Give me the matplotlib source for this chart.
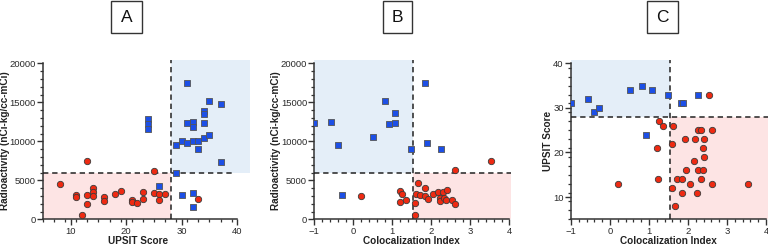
import matplotlib
matplotlib.use("Agg")
import matplotlib.pyplot as plt
from matplotlib.patches import Rectangle
import numpy as np

plt.rcParams['font.family'] = ['Liberation Sans', 'DejaVu Sans']

# ---------------- Data ----------------
# Panel A: UPSIT score vs radioactivity
a_blue_x = [24, 24, 24, 26, 29, 29, 30, 30, 31, 31, 31, 32, 32, 32, 32, 32,
            33, 33, 34, 34, 34, 34, 35, 35, 37, 37]
a_blue_y = [12820, 12220, 11580, 4310, 9530, 5900, 10000, 3070, 9740, 17470,
            12310, 12440, 11830, 10080, 3370, 1540, 10000, 8970, 10420, 13880,
            13460, 12310, 10810, 15130, 14820, 7390]
a_red_x = [8, 11, 11, 12, 13, 13, 13, 14, 14, 14, 16, 16, 18, 19, 21, 21, 22,
           23, 23, 25, 25, 26, 26, 27, 33]
a_red_y = [4580, 3060, 2830, 530, 7500, 3100, 1950, 3950, 3480, 2950, 2850,
           2350, 3250, 3650, 2440, 2200, 2070, 3460, 2560, 3420, 6250, 3230,
           2500, 3200, 2540]

# Panel B: colocalization index vs radioactivity
b_blue_x = [-1.00, -0.57, -0.40, -0.28, 0.51, 0.82, 0.91, 1.07, 1.08, 1.48,
            1.84, 1.88, 2.26]
b_blue_y = [12370, 12500, 9540, 3110, 10490, 15200, 12200, 13570, 12350, 9000,
            17520, 9800, 9000]
b_red_x = [0.20, 1.20, 1.24, 1.20, 1.34, 1.65, 1.84, 1.60, 1.72, 1.84, 1.92,
           2.05, 2.17, 2.22, 2.23, 2.31, 2.33, 2.37, 2.40, 2.54, 2.60, 1.58,
           1.57, 2.61, 3.53]
b_red_y = [3050, 3600, 3180, 2220, 2480, 4640, 4000, 3250, 3120, 3030, 2600,
           3210, 3470, 2780, 2350, 3470, 2780, 2480, 3720, 2480, 1930, 2090,
           550, 6260, 7520]

# Panel C: colocalization index vs UPSIT score
c_blue_x = [-1.00, -0.57, -0.40, -0.29, 0.51, 0.83, 1.08, 1.49, 0.91, 1.83,
            1.88, 2.26]
c_blue_y = [31, 32, 29, 30, 34, 35, 34, 33, 24, 31, 31, 33]
c_red_x = [0.20, 1.26, 1.35, 1.21, 1.22, 1.61, 1.59, 1.58, 1.66, 1.73, 1.85,
           1.85, 1.93, 1.94, 2.06, 2.16, 2.17, 2.24, 2.25, 2.26, 2.32, 2.33,
           2.38, 2.39, 2.42, 2.41, 2.54, 2.61, 2.62, 3.53]
c_red_y = [13, 27, 26, 21, 14, 26, 22, 12, 8, 14, 14, 11, 23, 16, 13, 18, 23,
           11, 16, 25, 25, 14, 21, 16, 19, 23, 33, 13, 25, 13]

panel_letters = ["A", "B", "C"]
xlabels = ["UPSIT Score", "Colocalization Index", "Colocalization Index"]
ylabels = ["Radioactivity (nCi-kg/cc-mCi)", "Radioactivity (nCi-kg/cc-mCi)",
           "UPSIT Score"]

# ---------------- Style ----------------
W, H = 768, 246
BLUE_FILL = '#e4eef8'
PINK_FILL = '#fde4e4'
BLUE = '#1c4fe6'
RED = '#ee2a12'
EDGE = '#3a3a3a'
AXC = '#333333'

fig = plt.figure(figsize=(W / 100, H / 100), dpi=100)


def px_axes(l, r, t, b):
    return fig.add_axes([l / W, (H - b) / H, (r - l) / W, (b - t) / H])


def style(ax, xb, yb, xmaj, xmin, ymaj, ymin):
    for s in ['top', 'right']:
        ax.spines[s].set_visible(False)
    for s in ['left', 'bottom']:
        ax.spines[s].set_color(AXC)
        ax.spines[s].set_linewidth(1.1)
    ax.spines['bottom'].set_bounds(*xb)
    ax.spines['left'].set_bounds(*yb)
    ax.set_xticks(np.arange(xb[0], xb[1] + 1e-9, xmin), minor=True)
    ax.set_yticks(np.arange(yb[0], yb[1] + 1e-9, ymin), minor=True)
    ax.tick_params(which='major', length=4, width=1.0, color=AXC,
                   labelsize=6.8, labelcolor='#2a2a2a', pad=1.2)
    ax.tick_params(which='minor', length=2.5, width=0.9, color=AXC)


def dashed(ax, xs, ys):
    ax.plot(xs, ys, ls=(0, (3.5, 2.5)), color='#222222', lw=1.1, zorder=3)


def scatter(ax, bx, by, rx, ry):
    ax.scatter(rx, ry, s=21, marker='o', facecolor=RED, edgecolor=EDGE,
               linewidth=0.6, zorder=4)
    ax.scatter(bx, by, s=21, marker='s', facecolor=BLUE, edgecolor='#555555',
               linewidth=0.6, zorder=5)


# Panel A
axA = px_axes(42.9, 250, 59.4, 219.3)
axA.set_xlim(5, 42.3)
axA.set_ylim(0, 20500)
axA.add_patch(Rectangle((5, 0), 23, 6000, color=PINK_FILL, lw=0, zorder=0))
axA.add_patch(Rectangle((28, 6000), 14.3, 14400, color=BLUE_FILL, lw=0, zorder=0))
dashed(axA, [28, 28], [0, 20400])
dashed(axA, [5, 39.5], [6000, 6000])
scatter(axA, a_blue_x, a_blue_y, a_red_x, a_red_y)
style(axA, (5, 40), (0, 20000), 10, 2, 5000, 1000)
axA.set_xticks([10, 20, 30, 40])
axA.set_yticks([0, 5000, 10000, 15000, 20000])

# Panel B
axB = px_axes(314.3, 511.3, 59.4, 219.3)
axB.set_xlim(-1, 4.05)
axB.set_ylim(0, 20500)
axB.add_patch(Rectangle((-1, 6000), 2.52, 14400, color=BLUE_FILL, lw=0, zorder=0))
axB.add_patch(Rectangle((1.52, 0), 2.53, 6000, color=PINK_FILL, lw=0, zorder=0))
dashed(axB, [1.52, 1.52], [0, 20400])
dashed(axB, [-1, 4.05], [6000, 6000])
scatter(axB, b_blue_x, b_blue_y, b_red_x, b_red_y)
style(axB, (-1, 4), (0, 20000), 1, 0.2, 5000, 1000)
axB.set_xticks([-1, 0, 1, 2, 3, 4])
axB.set_yticks([0, 5000, 10000, 15000, 20000])

# Panel C
axC = px_axes(571, 768, 60.2, 219.3)
axC.set_xlim(-1, 4.05)
axC.set_ylim(5, 40.7)
axC.add_patch(Rectangle((-1, 28), 2.55, 12.7, color=BLUE_FILL, lw=0, zorder=0))
axC.add_patch(Rectangle((1.55, 5), 2.5, 23, color=PINK_FILL, lw=0, zorder=0))
dashed(axC, [1.55, 1.55], [5, 40.7])
dashed(axC, [-1, 4.05], [28, 28])
scatter(axC, c_blue_x, c_blue_y, c_red_x, c_red_y)
style(axC, (-1, 4), (5, 40), 1, 0.2, 10, 2)
axC.set_xticks([-1, 0, 1, 2, 3, 4])
axC.set_yticks([10, 20, 30, 40])

# labels
label_kw = dict(fontsize=7.2, fontweight='bold', color='#222222')
axes = [axA, axB, axC]
xlab_centers = [138, 411.6, 668.5]
ylab_x = [5.5, 276, 548]
for ax, xl, yl, xc, yx in zip(axes, xlabels, ylabels, xlab_centers, ylab_x):
    fig.text(xc / W, (H - 241.5) / H, xl, ha='center', va='center', **label_kw)
    pos = ax.get_position()
    fig.text(yx / W, pos.y0 + (pos.y1 - pos.y0) * 0.49, yl, ha='center',
             va='center', rotation=90, **label_kw)

# boxed panel letters
boxes = [(111, 142), (383.3, 412.3), (646.7, 677.7)]
for (l, r), letter in zip(boxes, panel_letters):
    fig.patches.append(Rectangle((l / W, (H - 33) / H), (r - l) / W, 32 / H,
                                 transform=fig.transFigure, fill=False,
                                 edgecolor='#333333', lw=1.0))
    fig.text((l + r) / 2 / W, (H - 17) / H, letter, ha='center', va='center',
             fontsize=12.5, color='#111111')

fig.savefig('out.png', dpi=100)
